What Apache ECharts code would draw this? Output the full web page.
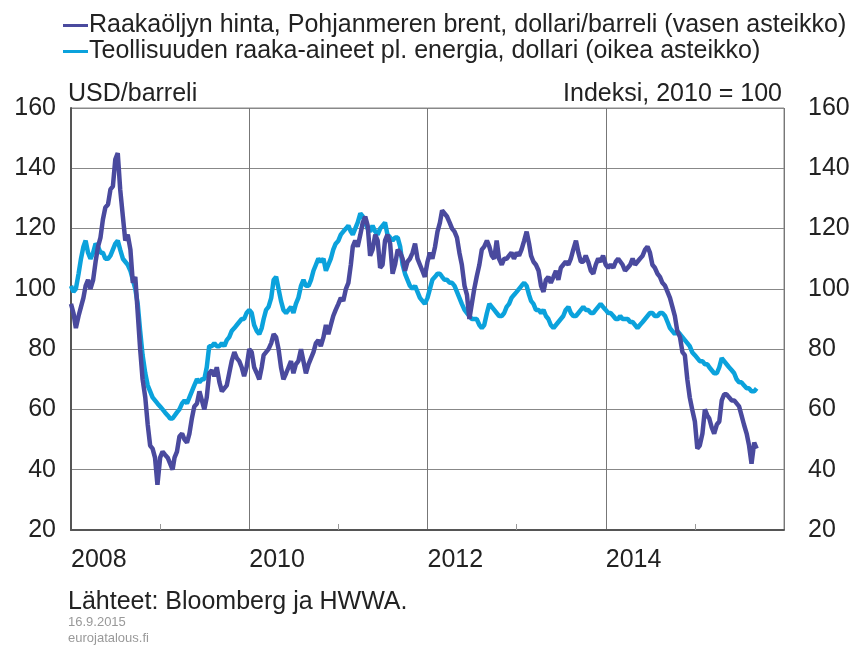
<!DOCTYPE html>
<html>
<head>
<meta charset="utf-8">
<script src="https://cdn.jsdelivr.net/npm/echarts@6/dist/echarts.min.js"></script>
<style>
  html, body { margin: 0; padding: 0; background: #fff; }
  #chart { width: 853px; height: 647px; }
</style>
</head>
<body>
<div id="chart"></div>
<script>
// sarjojen nimet
var seriesNames = [
  "Raakaöljyn hinta, Pohjanmeren brent, dollari/barreli (vasen asteikko)",
  "Teollisuuden raaka-aineet pl. energia, dollari (oikea asteikko)"
];
var yearTicks = [2008, 2010, 2012, 2014];
var valueTicks = [20, 40, 60, 80, 100, 120, 140, 160];

// havainnot kuukauden 1., 11. ja 21. päivänä, 1.1.2008 alkaen
var startYear = 2008;
var obsDays = [1, 11, 21];

// brent, USD/barreli
var brent = [
  95, 92, 87,  91, 94, 97,  101, 103, 100,  103, 109, 114,  117, 123, 127,  128, 133, 134,
  143, 145, 133,  124, 116, 118,  113, 102, 104,  92, 80, 70,  64, 55, 48,  47, 44, 35,
  // 2009
  44, 46, 45,  44, 42, 40,  44, 46, 51,  52, 50, 49,  52, 57, 61,  62, 66, 63,
  60, 64, 72,  73, 71, 74,  69, 66, 67,  68, 72, 76,  79, 77, 76,  74, 71, 74,
  // 2010
  80, 79, 74,  72, 70, 74,  78, 79, 80,  82, 85, 84,  80, 74, 70,  72, 74, 76,
  72, 75, 76,  80, 76, 72,  75, 77, 79,  82, 83, 81,  84, 88, 85,  88, 91, 93,
  // 2011
  95, 97, 96,  100, 102, 108,  114, 116, 114,  118, 122, 124,  121, 111, 113,  118, 116, 107,
  108, 116, 118,  115, 105, 108,  113, 112, 110,  106, 109, 110,  112, 115, 110,  108, 106, 104,
  // 2012
  109, 112, 110,  114, 119, 122,  126, 125, 124,  122, 120, 119,  117, 112, 108,  101, 98, 90,
  95, 100, 104,  108, 113, 114,  116, 114, 111,  110, 116, 110,  108, 110, 110,  111, 112, 110,
  // 2013
  112, 111, 113,  116, 119, 115,  111, 109, 108,  106, 101, 99,  103, 104, 102,  104, 106, 103,
  107, 108, 109,  108, 110, 113,  116, 112, 109,  109, 111, 109,  106, 105, 108,  110, 109, 111,
  // 2014
  108, 107, 108,  107, 109, 110,  110, 108, 106,  107, 108, 110,  108, 109, 110,  111, 113, 114,
  112, 108, 107,  105, 104, 102,  101, 99, 97,  94, 91, 86,  84, 79, 78,  70, 64, 60,
  // 2015
  56, 47, 48,  52, 60, 58,  57, 54, 52,  55, 56, 63,  65, 65, 64,  63, 63, 62,
  61, 58, 55,  52, 48, 42,  49, 47
];

// HWWA, teollisuuden raaka-aineet pl. energia, 2010 = 100
var hwwa = [
  101, 99, 100,  105, 110, 114,  116, 112, 110,  112, 115, 114,  112, 112, 110,  110, 111, 113,
  115, 116, 113,  110, 109, 108,  106, 103, 100,  95, 86, 78,  72, 68, 66,  64, 63, 62,
  // 2009
  61, 60, 59,  58, 57, 57,  57, 59, 60,  62, 63, 62,  64, 66, 68,  70, 69, 70,
  70, 74, 81,  81, 82, 81,  81, 82, 81,  83, 84, 86,  87, 88, 89,  90, 90, 92,
  // 2010
  93, 92, 88,  86, 85, 87,  90, 93, 94,  97, 103, 104,  100, 96, 93,  92, 93, 94,
  92, 95, 97,  101, 103, 101,  101, 103, 106,  108, 110, 109,  110, 106, 108,  110, 113, 115,
  // 2011
  116, 118, 119,  120, 121, 119,  118, 120, 122,  125, 124, 122,  120, 119, 121,  119, 118, 120,
  121, 122, 118,  117, 116, 117,  117, 114, 108,  105, 103, 101,  100, 101, 99,  97, 96, 95,
  // 2012
  97, 100, 103,  104, 105, 105,  104, 103, 103,  102, 102, 101,  99, 97, 95,  93, 92, 91,
  90, 90, 90,  88, 87, 88,  92, 95, 94,  93, 92, 91,  91, 92, 94,  95, 97, 98,
  // 2013
  99, 100, 101,  102, 101, 98,  96, 95, 93,  93, 92, 93,  91, 90, 88,  87, 88, 89,
  90, 91, 93,  94, 92, 91,  91, 92, 93,  94, 93, 93,  92, 92, 93,  94, 95, 94,
  // 2014
  93, 92, 92,  91, 90, 90,  91, 90, 90,  90, 89, 89,  88, 87, 88,  89, 90, 91,
  92, 92, 91,  91, 92, 92,  91, 89, 87,  86, 85, 86,  85, 84, 83,  82, 81, 79,
  // 2015
  78, 77, 76,  76, 75, 75,  74, 73, 72,  72, 74, 77,  76, 75, 74,  73, 72, 70,
  69, 69, 68,  67, 67, 66,  66, 67
];

// päivämäärä -> vuosi desimaalilukuna
function toYear(y, m, d) {
  var start = Date.UTC(y, 0, 1);
  var end = Date.UTC(y + 1, 0, 1);
  return y + (Date.UTC(y, m, d) - start) / (end - start);
}

function buildPoints(values) {
  var pts = [];
  for (var i = 0; i < values.length; i++) {
    var month = Math.floor(i / obsDays.length);
    var y = startYear + Math.floor(month / 12);
    var m = month % 12;
    pts.push([toYear(y, m, obsDays[i % obsDays.length]), values[i]]);
  }
  return pts;
}

var darkBlue = "#4a4a9e";
var lightBlue = "#0ba2dc";
var font = "Liberation Sans";

var chart = echarts.init(document.getElementById("chart"), null, { renderer: "canvas" });

var yAxisBase = {
  type: "value",
  min: valueTicks[0],
  max: valueTicks[valueTicks.length - 1],
  interval: 20,
  axisLine: { show: false },
  axisTick: { show: false },
  axisLabel: { fontFamily: font, fontSize: 25, color: "#222" }
};

var options = {
  backgroundColor: "#fff",
  animation: false,
  textStyle: { fontFamily: font },
  legend: {
    orient: "vertical",
    left: 58,
    top: 8,
    itemWidth: 25,
    itemHeight: 3,
    itemGap: 1,
    icon: "rect",
    data: seriesNames,
    textStyle: { fontFamily: font, fontSize: 25, color: "#222", padding: [0, 0, 0, -4] }
  },
  grid: {
    left: 71,
    right: 69,
    top: 108,
    bottom: 117,
    show: true,
    borderColor: "#888",
    borderWidth: 1
  },
  xAxis: {
    type: "value",
    min: 2008,
    max: 2016,
    interval: 2,
    axisLine: { show: true, onZero: false, lineStyle: { color: "#555", width: 2 } },
    axisTick: { show: false, inside: true },
    minorTick: { show: true, splitNumber: 2, length: 6, lineStyle: { color: "#999" } },
    splitLine: { show: true, lineStyle: { color: "#777", width: 1 } },
    axisLabel: {
      fontFamily: font,
      fontSize: 25,
      color: "#222",
      align: "left",
      margin: 18,
      showMaxLabel: false,
      formatter: function (v) {
        return yearTicks.indexOf(v) >= 0 ? String(v) : "";
      }
    }
  },
  yAxis: [
    Object.assign({}, yAxisBase, {
      position: "left",
      axisLine: { show: true, lineStyle: { color: "#555", width: 2 } },
      axisLabel: Object.assign({}, yAxisBase.axisLabel, { margin: 15 }),
      splitLine: { show: true, lineStyle: { color: "#888", width: 1 } }
    }),
    Object.assign({}, yAxisBase, {
      position: "right",
      axisLabel: Object.assign({}, yAxisBase.axisLabel, { margin: 24 }),
      splitLine: { show: false }
    })
  ],
  graphic: [
    { type: "text", left: 68, top: 82, style: { text: "USD/barreli", font: "25px " + font, fill: "#222" } },
    { type: "text", right: 71, top: 82, style: { text: "Indeksi, 2010 = 100", font: "25px " + font, fill: "#222" } },
    { type: "text", left: 68, top: 590, style: { text: "Lähteet: Bloomberg ja HWWA.", font: "25px " + font, fill: "#222" } },
    { type: "text", left: 68, top: 616, style: { text: "16.9.2015", font: "13px " + font, fill: "#999" } },
    { type: "text", left: 68, top: 632, style: { text: "eurojatalous.fi", font: "13px " + font, fill: "#999" } }
  ],
  series: [
    {
      name: seriesNames[1],
      type: "line",
      yAxisIndex: 1,
      showSymbol: false,
      data: buildPoints(hwwa),
      lineStyle: { color: lightBlue, width: 4.5 },
      itemStyle: { color: lightBlue }
    },
    {
      name: seriesNames[0],
      type: "line",
      yAxisIndex: 0,
      showSymbol: false,
      data: buildPoints(brent),
      lineStyle: { color: darkBlue, width: 4.5 },
      itemStyle: { color: darkBlue }
    }
  ]
};

chart.setOption(options);
</script>
</body>
</html>
